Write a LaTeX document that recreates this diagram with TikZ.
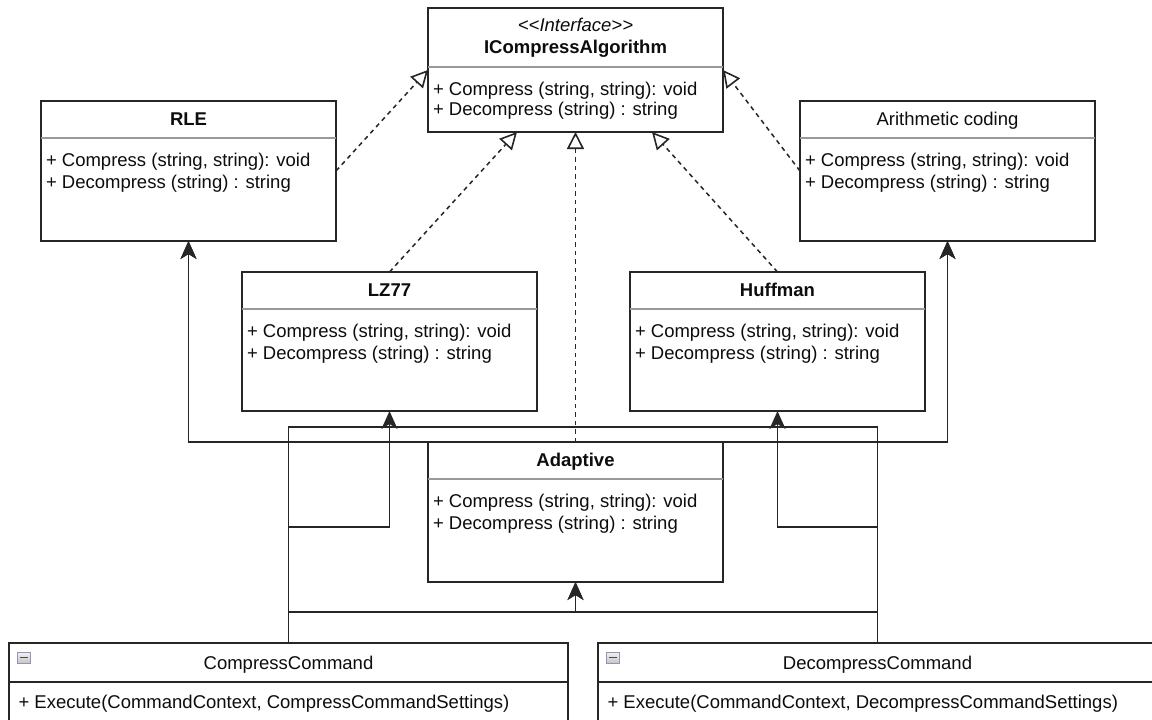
\documentclass[tikz,border=0pt]{standalone}
\usepackage{fontspec}
\setmainfont{Liberation Sans}
\usetikzlibrary{arrows.meta,calc}
\newcommand\fsz{\fontsize{18.5}{21.5}\selectfont}
\tikzset{
  classbox/.style={draw=black!85, line width=1.6pt, fill=white, minimum width=295pt, inner sep=0pt, outer sep=0pt},
  divider/.style={draw=black!40, line width=1.4pt},
  txt/.style={inner sep=0pt, outer sep=0pt, font=\fsz, text=black!95},
  realize/.style={draw=black!85, line width=1.5pt, dash pattern=on 4.5pt off 4pt, -{Triangle[open,length=17pt,width=17pt,fill=white,line width=1.6pt]}},
  assoc/.style={draw=black!85, line width=1.6pt, -{Stealth[length=18pt,width=16pt,inset=5pt]}},
  plainlink/.style={draw=black!85, line width=1.6pt},
  icon/.style={top color=gray!10, bottom color=gray!45, draw=blue!20!gray!70, line width=0.8pt},
}
\newcommand\umlclass[6]{%
  \node[classbox, minimum height=#4pt, anchor=north west] (#1) at (#2,#3) {};
  \node[txt, font=\fsz#5, anchor=base] (#1-title) at ($(#1.north)+(0,24)$) {#6};
  \draw[divider] ($(#1.north west)+(0,37)$) -- ($(#1.north east)+(0,37)$);
  \node[txt, anchor=base west] (#1-m1) at ($(#1.north west)+(5,65)$) {+ Compress (string, string): void};
  \node[txt, anchor=base west] (#1-m2) at ($(#1.north west)+(5,87)$) {+ Decompress (string) : string};
}
\newcommand\cmdbox[3]{% name, left, title
  \node[classbox, minimum width=559pt, minimum height=120pt, anchor=north west] (#1) at (#2,643) {};
  \node[txt, anchor=base] (#1-title) at ($(#1.north)+(0,26)$) {#3Command};
  \draw[plainlink] ($(#1.north west)+(0,39)$) -- ($(#1.north east)+(0,39)$);
  \node[txt, anchor=base west] (#1-m) at ($(#1.north west)+(9.5,65)$) {+ Execute(CommandContext, #3CommandSettings)};
  \shade[icon] ($(#1.north west)+(8,9)$) rectangle ($(#1.north west)+(21,20)$);
  \draw[black!70, line width=1.6pt] ($(#1.north west)+(10.5,14.5)$) -- ($(#1.north west)+(18.5,14.5)$);
}
\begin{document}
\begin{tikzpicture}[x=1pt,y=-1pt]
\useasboundingbox (0,0) rectangle (1152,720);
\fill[white] (0,0) rectangle (1152,720);
\clip (0,0) rectangle (1152,720);

% helper levels
\coordinate (y427) at (0,427);
\coordinate (y527) at (0,527);
\coordinate (y612) at (0,612);

% boxes
\node[classbox, minimum height=124pt, anchor=north west] (if) at (428,8) {};
\umlclass{rle}{41}{101}{140}{\bfseries}{RLE}
\umlclass{ar}{800}{101}{140}{}{Arithmetic coding}
\umlclass{lz}{242}{272}{139}{\bfseries}{LZ77}
\umlclass{hu}{630}{272}{139}{\bfseries}{Huffman}
\umlclass{ad}{428}{442}{140}{\bfseries}{Adaptive}
\cmdbox{cc}{9}{Compress}
\cmdbox{dc}{598}{Decompress}

% interface content
\node[txt, font=\fsz\itshape, anchor=base] (if-st) at ($(if.north)+(0,23)$) {<\kern0pt<Interface>\kern0pt>};
\node[txt, font=\fsz\bfseries, anchor=base] (if-title) at ($(if.north)+(0,45)$) {ICompressAlgorithm};
\draw[divider] ($(if.north west)+(0,59)$) -- ($(if.north east)+(0,59)$);
\node[txt, anchor=base west] (if-m1) at ($(if.north west)+(5,87)$) {+ Compress (string, string): void};
\node[txt, anchor=base west] (if-m2) at ($(if.north west)+(5,107)$) {+ Decompress (string) : string};

% realizations (dashed, open triangle)
\draw[realize] (rle.east) -- (if.west);
\draw[realize] (ar.west) -- (if.east);
\draw[realize] (lz.north) -- ([xshift=-58.5pt]if.south);
\draw[realize] (ad.north) -- (if.south);
\draw[realize] (hu.north) -- ([xshift=76.5pt]if.south);

% associations from the commands
\draw[plainlink] (cc.north) -- (cc.north |- y427) -- (dc.north |- y427) -- (dc.north);
\draw[assoc] (cc.north) -- (cc.north |- ad.north) -| (rle.south);
\draw[assoc] (cc.north) -- (cc.north |- ad.north) -| (ar.south);
\draw[assoc] (dc.north) -- (dc.north |- ad.north) -| (rle.south);
\draw[assoc] (dc.north) -- (dc.north |- ad.north) -| (ar.south);
\draw[assoc] (cc.north) -- (cc.north |- y527) -| (lz.south);
\draw[assoc] (dc.north) -- (dc.north |- y527) -| (hu.south);
\draw[assoc] (cc.north) -- (cc.north |- y612) -| (ad.south);
\draw[assoc] (dc.north) -- (dc.north |- y612) -| (ad.south);
\end{tikzpicture}
\end{document}
